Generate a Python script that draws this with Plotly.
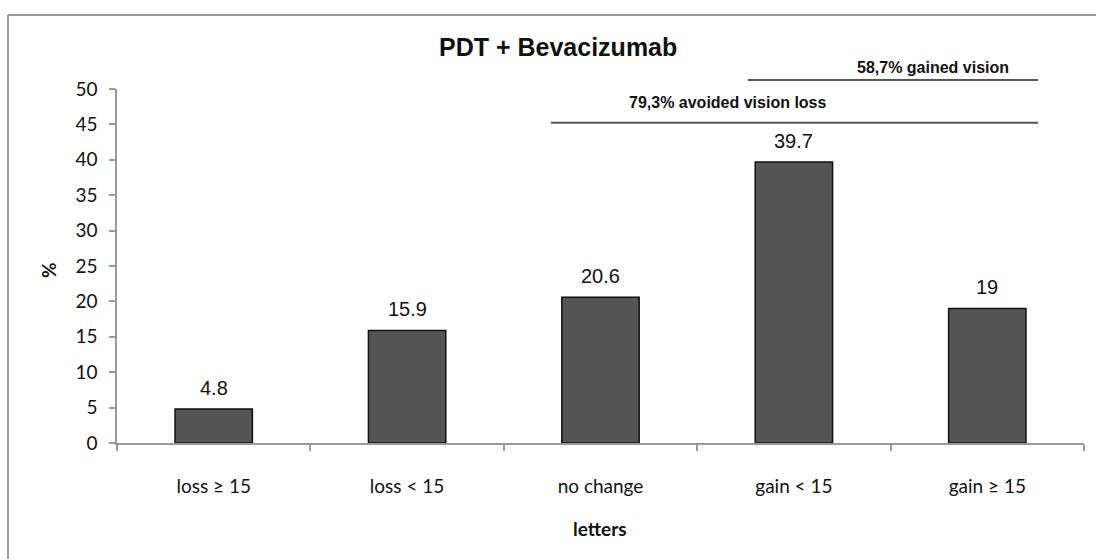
import plotly.graph_objects as go

categories = ["loss ≥ 15", "loss < 15", "no change", "gain < 15", "gain ≥ 15"]
values = [4.8, 15.9, 20.6, 39.7, 19]
value_labels = ["4.8", "15.9", "20.6", "39.7", "19"]
y_ticks = [0, 5, 10, 15, 20, 25, 30, 35, 40, 45, 50]

W, H = 1096, 559
L, R, T, B = 117, 12, 89, 116

fig = go.Figure()
fig.add_trace(go.Bar(
    x=categories, y=values,
    marker=dict(color="#555555", line=dict(color="#111111", width=1.5)),
    width=0.4, hoverinfo="skip", showlegend=False,
))

ann = []
for c, v, t in zip(categories, values, value_labels):
    ann.append(dict(x=c, y=v, xref="x", yref="y", text=t, showarrow=False,
                    yanchor="bottom", yshift=8,
                    font=dict(family="Liberation Sans, Arial", size=20, color="#111")))

def px(xp):
    return (xp - L) / (W - L - R)

def py(yp):
    return (H - B - yp) / (H - T - B)

ann += [
    dict(x=px(558), xref="paper", y=py(47), yref="paper", text="<b>PDT + Bevacizumab</b>",
         showarrow=False, xanchor="center", yanchor="middle",
         font=dict(family="Liberation Sans, Arial", size=25, color="#111")),
    dict(x=px(933), xref="paper", y=py(67), yref="paper", text="<b>58,7% gained vision</b>",
         showarrow=False, xanchor="center", yanchor="middle",
         font=dict(family="Liberation Sans, Arial", size=16, color="#111")),
    dict(x=px(728), xref="paper", y=py(103), yref="paper", text="<b>79,3% avoided vision loss</b>",
         showarrow=False, xanchor="center", yanchor="middle",
         font=dict(family="Liberation Sans, Arial", size=16, color="#111")),
    dict(x=px(48), xref="paper", y=py(270), yref="paper", text="<b>%</b>", textangle=-90,
         showarrow=False, xanchor="center", yanchor="middle",
         font=dict(family="Lato, Open Sans", size=19, color="#111")),
    dict(x=px(600), xref="paper", y=py(528), yref="paper", text="<b>letters</b>",
         showarrow=False, xanchor="center", yanchor="middle",
         font=dict(family="Lato, Open Sans", size=19, color="#111")),
]

shapes = [
    dict(type="line", xref="paper", yref="paper", x0=px(748), x1=px(1038), y0=py(80), y1=py(80),
         line=dict(color="#555", width=2)),
    dict(type="line", xref="paper", yref="paper", x0=px(551), x1=px(1038), y0=py(122.7), y1=py(122.7),
         line=dict(color="#555", width=2)),
    # outer chart border (top and left edges visible)
    dict(type="line", xref="paper", yref="paper", x0=px(8), x1=px(1100), y0=py(15), y1=py(15),
         line=dict(color="#9a9a9a", width=2)),
    dict(type="line", xref="paper", yref="paper", x0=px(8), x1=px(8), y0=py(15), y1=py(565),
         line=dict(color="#9a9a9a", width=2)),
]

fig.update_layout(
    width=W, height=H,
    margin=dict(l=L, r=R, t=T, b=B, pad=0),
    paper_bgcolor="white", plot_bgcolor="white",
    annotations=ann, shapes=shapes,
    xaxis=dict(
        type="category", showgrid=False, showline=True, linecolor="#999999", linewidth=1.5,
        ticks="outside", tickson="boundaries", ticklen=6, tickcolor="#999999", tickwidth=1.5,
        tickfont=dict(family="Lato, Open Sans", size=19, color="#111"),
        zeroline=False, ticklabelstandoff=25,
    ),
    yaxis=dict(
        range=[0, 50], tickvals=y_ticks, showgrid=False, showline=True,
        linecolor="#999999", linewidth=1.5, ticks="outside", ticklen=6, tickcolor="#999999",
        tickwidth=1.5, tickfont=dict(family="Lato, Open Sans", size=19, color="#111"),
        zeroline=False, ticklabelstandoff=8,
    ),
)

fig.write_html("out.html", config={"displayModeBar": False},
               post_script="document.body.style.margin='0';document.body.style.overflow='hidden';")
